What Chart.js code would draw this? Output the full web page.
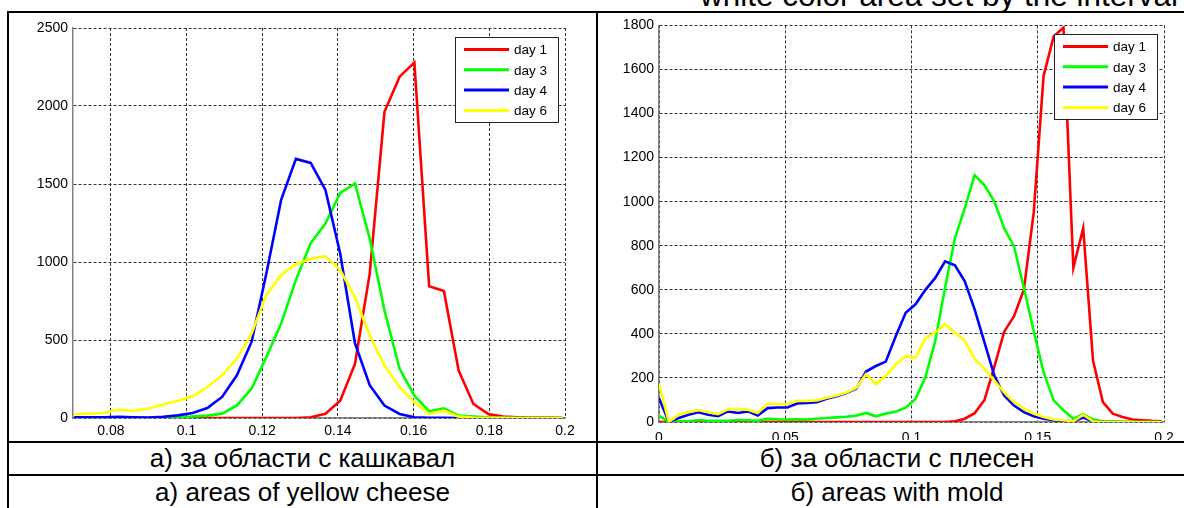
<!DOCTYPE html>
<html>
<head>
<meta charset="utf-8">
<script src="https://cdn.jsdelivr.net/npm/chart.js@4.4.1/dist/chart.umd.min.js"></script>
<style>
    body { margin: 0; background: #fff; width: 1184px; height: 508px; overflow: hidden; position: relative; font-family: "Liberation Sans", Arial, sans-serif; }
    .hline { position: absolute; height: 2px; background: #000; }
    .vline { position: absolute; width: 2px; background: #000; }
    .caption { position: absolute; text-align: center; font-size: 26px; color: #000; white-space: nowrap; }
    canvas { position: absolute; }
    #heading { position: absolute; left: 700px; top: -20px; font-size: 31.5px; line-height: 31px; white-space: nowrap; }
</style>
</head>
<body>
<div id="heading">white color area set by the interval</div>

<div class="hline" style="left:7px; top:11px; width:1177px;"></div>
<div class="hline" style="left:7px; top:441px; width:1177px;"></div>
<div class="hline" style="left:7px; top:474px; width:1177px;"></div>
<div class="vline" style="left:7px; top:11px; height:497px;"></div>
<div class="vline" style="left:596px; top:11px; height:497px;"></div>

<canvas id="chartCheese" width="586" height="428" style="left:10px; top:12px;"></canvas>
<canvas id="chartMold" width="584" height="428" style="left:600px; top:12px;"></canvas>

<div class="caption" style="left:9px; top:443px; width:587px; height:31px; line-height:31px;">а) за области с кашкавал</div>
<div class="caption" style="left:598px; top:443px; width:598px; height:31px; line-height:31px;">б) за области с плесен</div>
<div class="caption" style="left:9px; top:476px; width:587px; height:32px; line-height:32px;">а) areas of yellow cheese</div>
<div class="caption" style="left:598px; top:476px; width:598px; height:32px; line-height:32px;">б) areas with mold</div>

<script>
// histogram bin positions (0..0.2)
const binX = [0, 0.0039, 0.0078, 0.0117, 0.0156, 0.0195, 0.0234, 0.0273, 0.0313, 0.0352,
    0.0391, 0.0430, 0.0469, 0.0508, 0.0547, 0.0586, 0.0625, 0.0664, 0.0703, 0.0742,
    0.0781, 0.0820, 0.0859, 0.0898, 0.0938, 0.0977, 0.1016, 0.1055, 0.1094, 0.1133,
    0.1172, 0.1211, 0.1250, 0.1289, 0.1328, 0.1367, 0.1406, 0.1445, 0.1484, 0.1523,
    0.1563, 0.1602, 0.1641, 0.1680, 0.1719, 0.1758, 0.1797, 0.1836, 0.1875, 0.1914,
    0.1953, 0.1992];

const seriesLabels = ['day 1', 'day 3', 'day 4', 'day 6'];

// а) yellow cheese, bins from 0.0703 on
const cheeseRed = [0, 0, 0, 0, 0, 0, 0, 0, 0, 0, 0, 0, 0, 0, 0, 0,
    5, 27, 110, 347, 925, 1963, 2188, 2278, 844, 814, 304, 90, 26, 9, 4, 2, 1, 0];
const cheeseGreen = [0, 0, 0, 0, 0, 0, 2, 5, 10, 15, 28, 81, 189, 392, 606, 885,
    1121, 1246, 1443, 1503, 1150, 689, 315, 143, 43, 62, 15, 9, 4, 2, 1, 0, 0, 0];
const cheeseBlue = [5, 5, 5, 8, 5, 3, 8, 17, 32, 64, 135, 274, 489, 928, 1399, 1661,
    1635, 1462, 1055, 480, 210, 80, 26, 5, 2, 1, 0, 0, 0, 0, 0, 0, 0, 0];
const cheeseYellow = [24, 28, 32, 54, 45, 60, 86, 111, 139, 199, 274, 381, 542, 789, 917, 986,
    1020, 1038, 948, 775, 529, 336, 197, 101, 26, 47, 9, 3, 2, 1, 0, 0, 0, 0];

// б) mold, bins from 0 on
const moldRed = [0, 0, 0, 0, 0, 0, 0, 0, 0, 0, 0, 0, 0, 0, 0, 0, 0, 0, 0, 0,
    0, 0, 0, 0, 0, 0, 0, 0, 0, 0, 3, 15, 40, 100, 250, 410, 480, 600, 950, 1570,
    1750, 1790, 700, 880, 278, 90, 38, 23, 11, 8, 5, 3];
const moldGreen = [29, 0, 3, 3, 9, 6, 6, 6, 9, 8, 5, 14, 12, 11, 12, 11, 15, 18, 21, 24,
    29, 41, 26, 38, 48, 65, 105, 203, 368, 609, 835, 970, 1120, 1075, 1000, 880, 797, 609, 413, 226,
    98, 53, 15, 35, 11, 3, 2, 1, 0, 0, 0, 0];
const moldBlue = [108, 0, 18, 33, 44, 33, 26, 48, 41, 48, 29, 63, 66, 66, 84, 87, 90, 105, 117, 131,
    151, 229, 254, 274, 390, 496, 534, 600, 654, 729, 711, 639, 511, 361, 211, 120, 75, 45, 26, 15,
    8, 5, 3, 20, 3, 0, 0, 0, 0, 0, 0, 0];
const moldYellow = [173, 0, 33, 45, 54, 44, 36, 57, 57, 56, 41, 84, 81, 81, 96, 95, 98, 110, 120, 134,
    154, 218, 172, 210, 262, 298, 292, 380, 406, 444, 406, 368, 286, 241, 188, 135, 90, 60, 38, 23,
    11, 8, 3, 33, 3, 0, 0, 0, 0, 0, 0, 0];

const cheeseXTicks = [0.08, 0.1, 0.12, 0.14, 0.16, 0.18, 0.2];
const cheeseYTicks = [0, 500, 1000, 1500, 2000, 2500];
const moldXTicks = [0, 0.05, 0.1, 0.15, 0.2];
const moldYTicks = [0, 200, 400, 600, 800, 1000, 1200, 1400, 1600, 1800];

const lineColors = ['#ff0000', '#00ff00', '#0000ff', '#ffff00'];
const fontName = '"Liberation Sans", Arial, sans-serif';

// MATLAB-like legend box in the top right corner of the plot area
const boxLegend = {
    id: 'boxLegend',
    afterDatasetsDraw(chart) {
        const ctx = chart.ctx;
        const area = chart.chartArea;
        const w = 103, h = 85, rowH = 20.3;
        const x = Math.round(area.right - 7 - w);
        const y = Math.round(area.top + 9);
        ctx.save();
        ctx.fillStyle = '#fff';
        ctx.fillRect(x, y, w, h);
        ctx.strokeStyle = '#222';
        ctx.lineWidth = 1;
        ctx.strokeRect(x + 0.5, y + 0.5, w, h);
        ctx.font = '13.5px ' + fontName;
        ctx.textBaseline = 'middle';
        chart.data.datasets.forEach(function (ds, i) {
            const cy = y + 12.5 + i * rowH;
            ctx.strokeStyle = ds.borderColor;
            ctx.lineWidth = 3;
            ctx.beginPath();
            ctx.moveTo(x + 9, cy);
            ctx.lineTo(x + 54, cy);
            ctx.stroke();
            ctx.fillStyle = '#000';
            ctx.fillText(ds.label, x + 59, cy + 1);
        });
        ctx.restore();
    }
};

function toPoints(xs, ys) {
    return ys.map(function (y, i) { return { x: xs[i], y: y }; });
}

function makeDatasets(xs, seriesList) {
    return seriesList.map(function (ys, i) {
        return {
            label: seriesLabels[i],
            data: toPoints(xs, ys),
            borderColor: lineColors[i],
            backgroundColor: lineColors[i],
            borderWidth: 2.6,
            pointRadius: 0,
            tension: 0,
            order: 4 - i
        };
    });
}

function makeChart(canvasId, xs, seriesList, opts) {
    const ctx = document.getElementById(canvasId).getContext('2d');
    return new Chart(ctx, {
        type: 'line',
        data: { datasets: makeDatasets(xs, seriesList) },
        options: {
            responsive: false,
            animation: false,
            devicePixelRatio: 1,
            layout: { padding: { top: opts.padTop, right: opts.padRight, left: 0, bottom: 0 } },
            plugins: { legend: { display: false }, tooltip: { enabled: false } },
            scales: {
                x: {
                    type: 'linear',
                    min: opts.xMin,
                    max: opts.xMax,
                    afterBuildTicks: function (axis) { axis.ticks = opts.xTicks.map(function (v) { return { value: v }; }); },
                    afterFit: function (axis) { axis.height = opts.xHeight; },
                    grid: { color: '#333', lineWidth: 1, drawTicks: false },
                    border: { display: true, color: '#808080', width: 1.5, dash: [3, 2] },
                    ticks: {
                        autoSkip: false, maxRotation: 0, padding: opts.xPad, color: '#000',
                        font: { family: fontName, size: 14 },
                        callback: function (v) { return String(v); }
                    }
                },
                y: {
                    min: 0,
                    max: opts.yMax,
                    afterBuildTicks: function (axis) { axis.ticks = opts.yTicks.map(function (v) { return { value: v }; }); },
                    afterFit: function (axis) { axis.width = opts.yWidth; },
                    grid: { color: '#333', lineWidth: 1, drawTicks: false },
                    border: { display: true, color: '#808080', width: 1.5, dash: [3, 2] },
                    ticks: {
                        padding: 5, color: '#000',
                        font: { family: fontName, size: 14 },
                        callback: function (v) { return String(v); }
                    }
                }
            }
        },
        plugins: [boxLegend]
    });
}

document.addEventListener('DOMContentLoaded', function () {
    // а) areas of yellow cheese
    makeChart('chartCheese', binX.slice(18), [cheeseRed, cheeseGreen, cheeseBlue, cheeseYellow], {
        xMin: 0.07, xMax: 0.2, yMax: 2500, xTicks: cheeseXTicks, yTicks: cheeseYTicks,
        padTop: 16, padRight: 31, yWidth: 63, xHeight: 22, xPad: 5
    });

    // б) areas with mold
    makeChart('chartMold', binX, [moldRed, moldGreen, moldBlue, moldYellow], {
        xMin: 0, xMax: 0.2, yMax: 1800, xTicks: moldXTicks, yTicks: moldYTicks,
        padTop: 11, padRight: 20, yWidth: 59, xHeight: 18, xPad: 8
    });
});
</script>
</body>
</html>
